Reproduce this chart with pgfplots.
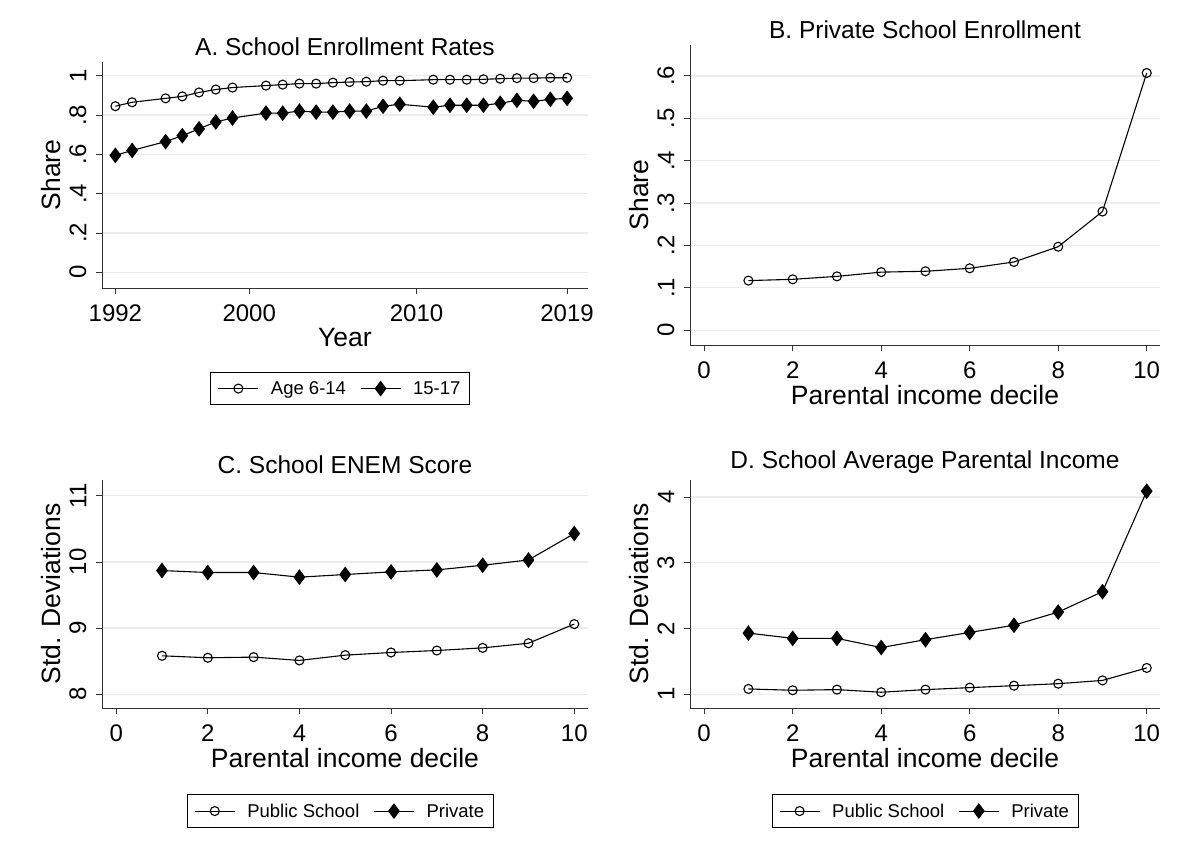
\documentclass[border=0pt]{standalone}
\usepackage{pgfplots}
\pgfplotsset{compat=1.18}
\usepackage{fontspec}
\setmainfont{Liberation Sans}
\pgfplotsset{
 stt/.style={scale only axis, axis x line*=bottom, axis y line*=left,
  axis line style={black!80, line width=0.9pt}, tick align=outside, major tick length=6pt,
  tick style={black!80, line width=0.9pt},
  ymajorgrids, grid style={black!8, line width=1.2pt},
  /pgf/number format/assume math mode=true,
  ticklabel style={font=\fontsize{24}{26}\selectfont},
  xticklabel shift=7pt, yticklabel shift=6pt,
  yticklabel style={rotate=90, anchor=south},
  label style={font=\fontsize{26.5}{28}\selectfont},
  title style={font=\fontsize{24.5}{27}\selectfont, yshift=-3pt},
  xlabel style={yshift=0pt}, ylabel style={yshift=2pt},
  legend style={font=\fontsize{18.5}{21}\selectfont, draw=black, line width=0.8pt, legend columns=2,
    anchor=center, /tikz/every even column/.append style={column sep=12pt},
    /tikz/every odd column/.append style={column sep=10pt},
    inner xsep=7pt, inner ysep=7pt},
  legend cell align=left,
  legend image code/.code={\draw[##1,mark=none] (0pt,0pt)--(40pt,0pt); \draw[##1,only marks] plot coordinates {(20pt,0pt)};}},
 pub/.style={black, line width=1.1pt, mark=o, mark size=4.5pt, mark options={line width=1.1pt, fill=white}},
 pri/.style={black, line width=1.1pt, mark=diamond*, mark size=7pt, mark options={fill=black}},
}
\begin{document}
\begin{tikzpicture}
\path (0pt,0pt) rectangle (1183pt,-846pt);
% A
\begin{axis}[stt, at={(102pt,-288pt)}, anchor=south west, width=486pt, height=226pt,
 xmin=1991.2, xmax=2020.25, ymin=-0.08, ymax=1.07,
 xtick={1992,2000,2010,2019}, ytick={0,0.2,0.4,0.6,0.8,1},
 yticklabels={0,.2,.4,.6,.8,1}, xticklabel style={/pgf/number format/1000 sep={}},
 title={A. School Enrollment Rates}, xlabel={Year}, ylabel={Share},
 legend style={at={(0.49,-0.445)}}]
\addplot[pub] coordinates {(1992,.845)(1993,.865)(1995,.885)(1996,.895)(1997,.915)(1998,.93)(1999,.94)(2001,.95)(2002,.955)(2003,.96)(2004,.96)(2005,.965)(2006,.968)(2007,.97)(2008,.975)(2009,.975)(2011,.98)(2012,.98)(2013,.98)(2014,.982)(2015,.985)(2016,.988)(2017,.988)(2018,.99)(2019,.99)};
\addplot[pri] coordinates {(1992,.595)(1993,.62)(1995,.665)(1996,.695)(1997,.73)(1998,.765)(1999,.785)(2001,.81)(2002,.81)(2003,.82)(2004,.815)(2005,.815)(2006,.82)(2007,.82)(2008,.845)(2009,.855)(2011,.84)(2012,.85)(2013,.85)(2014,.85)(2015,.86)(2016,.875)(2017,.87)(2018,.88)(2019,.885)};
\legend{Age 6-14,15-17}
\end{axis}
% B
\begin{axis}[stt, at={(690pt,-345pt)}, anchor=south west, width=470pt, height=300pt,
 xmin=-0.32, xmax=10.3, ymin=-0.035, ymax=0.673,
 xtick={0,2,...,10}, ytick={0,0.1,...,0.6}, yticklabels={0,.1,.2,.3,.4,.5,.6},
 title={B. Private School Enrollment}, xlabel={Parental income decile}, ylabel={Share}]
\addplot[pub] coordinates {(1,.117)(2,.12)(3,.127)(4,.137)(5,.139)(6,.146)(7,.161)(8,.197)(9,.28)(10,.607)};
\end{axis}
% C
\begin{axis}[stt, at={(102pt,-708pt)}, anchor=south west, width=486pt, height=228pt,
 xmin=-0.31, xmax=10.3, ymin=7.79, ymax=11.24,
 xtick={0,2,...,10}, ytick={8,9,10,11},
 title={C. School ENEM Score}, xlabel={Parental income decile}, ylabel={Std. Deviations},
 legend style={at={(0.49,-0.452)}}]
\addplot[pub] coordinates {(1,8.58)(2,8.55)(3,8.56)(4,8.51)(5,8.59)(6,8.63)(7,8.66)(8,8.70)(9,8.77)(10,9.06)};
\addplot[pri] coordinates {(1,9.87)(2,9.84)(3,9.84)(4,9.77)(5,9.81)(6,9.85)(7,9.88)(8,9.95)(9,10.03)(10,10.43)};
\legend{Public School,Private}
\end{axis}
% D
\begin{axis}[stt, at={(690pt,-708pt)}, anchor=south west, width=470pt, height=228pt,
 xmin=-0.32, xmax=10.3, ymin=0.79, ymax=4.26,
 xtick={0,2,...,10}, ytick={1,2,3,4},
 title={D. School Average Parental Income}, xlabel={Parental income decile}, ylabel={Std. Deviations},
 legend style={at={(0.5,-0.452)}}]
\addplot[pub] coordinates {(1,1.08)(2,1.06)(3,1.07)(4,1.03)(5,1.07)(6,1.10)(7,1.13)(8,1.16)(9,1.21)(10,1.40)};
\addplot[pri] coordinates {(1,1.93)(2,1.85)(3,1.85)(4,1.71)(5,1.83)(6,1.94)(7,2.05)(8,2.25)(9,2.56)(10,4.09)};
\legend{Public School,Private}
\end{axis}
\end{tikzpicture}
\end{document}
